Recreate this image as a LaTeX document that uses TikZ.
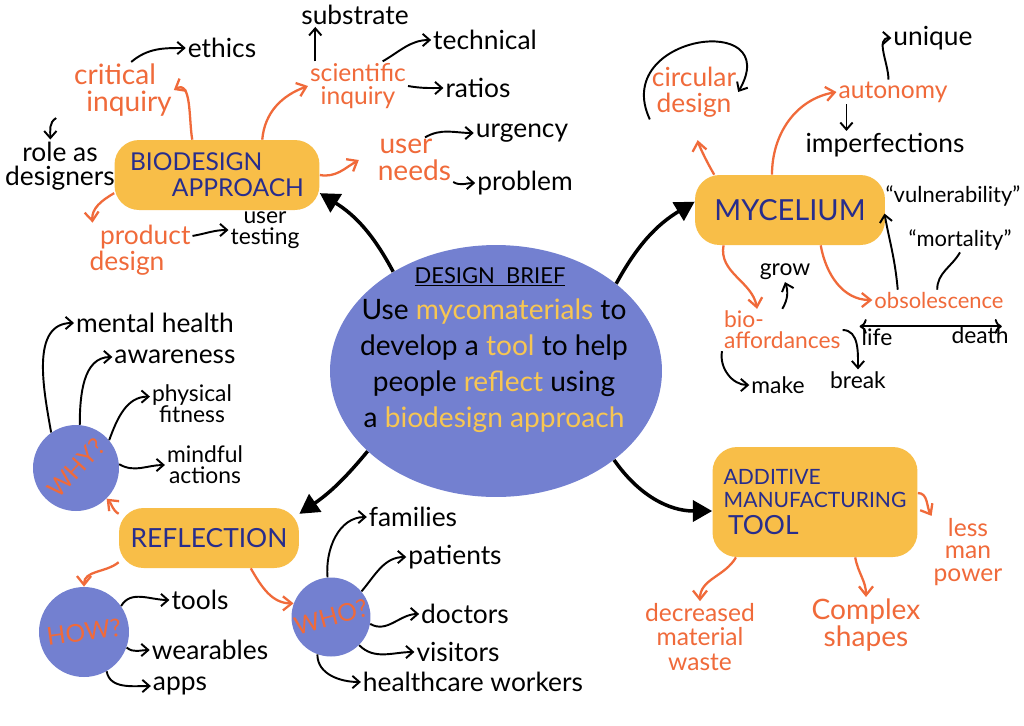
\documentclass[tikz,border=0pt]{standalone}
\usepackage{fontspec}
\setmainfont{Lato}
\usetikzlibrary{arrows.meta,shapes.geometric}

\definecolor{boxyellow}{RGB}{248,190,72}
\definecolor{blobblue}{RGB}{115,128,208}
\definecolor{orng}{RGB}{240,106,58}
\definecolor{inkblue}{RGB}{40,45,140}
\definecolor{wordyellow}{RGB}{247,198,82}

\begin{document}
\begin{tikzpicture}[x=0.02cm,y=-0.02cm,
  box/.style={fill=boxyellow, rounded corners=14pt, text=inkblue, inner sep=0pt},
  blob/.style={circle, fill=blobblue, inner sep=0pt},
  blobtext/.style={text=orng, inner sep=0pt, font=\fontsize{14}{14}\selectfont},
  sub/.style={text=orng, align=center, inner sep=1pt, font=\fontsize{15}{15}\selectfont},
  leaf/.style={text=black, align=center, inner sep=1pt, font=\fontsize{15}{14}\selectfont},
  leafs/.style={leaf, font=\fontsize{13}{12}\selectfont},
  oarr/.style={orng, line width=1.3pt, -{Straight Barb[length=5pt,width=8pt]}},
  barr/.style={black, line width=1.1pt, -{Straight Barb[length=4pt,width=7pt]}},
  bigarr/.style={black, line width=2pt, -{Triangle[length=11pt,width=12pt]}}
]
  \useasboundingbox[fill=white] (0,0) rectangle (1024,725);

  % design brief
  \node[ellipse, fill=blobblue, minimum width=6.64cm, minimum height=5.04cm] (brief) at (496,371) {};
  \node[font=\fontsize{12.5}{12}\selectfont] (title) at (490,277) {\underline{DESIGN\ \ BRIEF}};
  \node[align=center, font=\fontsize{16}{20.5}\selectfont] (brieftext) at (494,366)
    {Use \textcolor{wordyellow}{mycomaterials} to\\
     develop a \textcolor{wordyellow}{tool} to help\\
     people \textcolor{wordyellow}{reflect} using\\
     a \textcolor{wordyellow}{biodesign approach}};

  % main boxes
  \node[box, minimum width=4.1cm, minimum height=1.4cm, align=left, font=\fontsize{14}{15}\selectfont] (bio) at (217,175)
    {BIODESIGN\\\hspace*{1.7em}APPROACH};
  \node[box, minimum width=3.8cm, minimum height=1.4cm, font=\fontsize{16.5}{17}\selectfont] (myc) at (790,210) {MYCELIUM};
  \node[box, minimum width=3.6cm, minimum height=1.2cm, font=\fontsize{15}{15}\selectfont] (refl) at (209,538) {REFLECTION};
  \node[box, minimum width=4.1cm, minimum height=2.2cm, align=left, font=\fontsize{12}{13}\selectfont] (add) at (815,502)
    {ADDITIVE\\MANUFACTURING\\[2pt]{\fontsize{15}{15}\selectfont\,TOOL}};

  \node[blob, minimum size=1.72cm] (why) at (76,468) {};
  \node[blob, minimum size=1.8cm] (how) at (84,632) {};
  \node[blob, minimum size=1.58cm] (who) at (331,617) {};
  \node[blobtext, rotate=47] (whytext) at (why) {WHY?};
  \node[blobtext, rotate=8] (howtext) at (how) {HOW?};
  \node[blobtext, rotate=15] (whotext) at (who) {WHO?};

  % big arrows
  \draw[bigarr] (brief.136) to[bend right=15] (bio.-10);
  \draw[bigarr] (brief.36) to[bend left=15] (myc.175);
  \draw[bigarr] (brief.212) to[bend left=8] (refl.15);
  \draw[bigarr] (brief.-37) to[out=-55,in=180] (add.185);

  % biodesign approach
  \node[sub, font=\fontsize{16}{15}\selectfont] (crit) at (115,90) {critical\\\hspace*{1em}inquiry};
  \node[sub, font=\fontsize{14}{13}\selectfont] (sci) at (358,86) {scientific\\inquiry};
  \node[sub, font=\fontsize{16}{15}\selectfont] (need) at (406,160) {user\\\hspace*{0.6em}needs};
  \node[sub, align=left] (prod) at (140,250) {\hspace*{0.4em}product\\design};
  \node[leaf] (ethics) at (222,48) {ethics};
  \node[leaf] (role) at (60,166) {role as\\designers};
  \node[leaf] (subs) at (355,15) {substrate};
  \node[leaf] (tech) at (485,40) {technical};
  \node[leaf] (ratios) at (478,88) {ratios};
  \node[leaf] (urg) at (522,133) {urgency};
  \node[leaf] (prob) at (525,183) {problem};
  \node[leafs] (test) at (265,230) {user\\testing};

  \draw[oarr] (bio.125) to[out=100,in=30] (crit.east);
  \draw[oarr] (bio.38) to[out=85,in=200] (sci.west);
  \draw[oarr] (bio.east) to[out=-10,in=210] (need.west);
  \draw[oarr] (bio.190) to[out=210,in=95] (prod.150);
  \draw[barr] (crit.60) to[out=40,in=180] (ethics.west);
  \draw[barr] (crit.south west) to[out=210,in=90] (role.110);
  \draw[barr] (sci.150) -- (sci.150 |- subs.south);
  \draw[barr] (sci.45) to[out=30,in=180] (tech.west);
  \draw[barr] (sci.east) to[out=-10,in=180] (ratios.west);
  \draw[barr] (need.50) to[out=30,in=180] (urg.west);
  \draw[barr] (need.-25) to[out=-30,in=180] (prob.west);
  \draw[barr] (prod.15) to[out=10,in=180] (test.west);

  % mycelium
  \node[sub] (circ) at (694,92) {circular\\design};
  \node[sub, font=\fontsize{14}{14}\selectfont] (aut) at (893,92) {autonomy};
  \node[sub, font=\fontsize{12.5}{12}\selectfont] (obs) at (939,300) {obsolescence};
  \node[sub, anchor=west, align=left, font=\fontsize{13}{12}\selectfont] (bioaff) at (722,330) {bio-\\affordances};
  \node[leaf] (uniq) at (933,38) {unique};
  \node[leaf] (imp) at (885,145) {imperfections};
  \node[leaf, font=\fontsize{12.5}{12}\selectfont] (vul) at (953,196) {``vulnerability''};
  \node[leaf, font=\fontsize{12.5}{12}\selectfont] (mort) at (960,240) {``mortality''};
  \node[leaf, font=\fontsize{13}{12}\selectfont] (life) at (877,337) {life};
  \node[leaf, font=\fontsize{13}{12}\selectfont] (death) at (980,335) {death};
  \node[leaf, font=\fontsize{13}{12}\selectfont] (grow) at (785,272) {grow};
  \node[leaf, font=\fontsize{13}{12}\selectfont] (make) at (778,385) {make};
  \node[leaf, font=\fontsize{13}{12}\selectfont] (brk) at (858,380) {break};

  \draw[oarr, shorten >=12pt] (myc.155) to[out=120,in=-80] (circ.south);
  \draw[barr] (circ.south west) to[out=115,in=60,looseness=2.6] (circ.east);
  \draw[oarr] (myc.117) to[out=90,in=190] (aut.west);
  \draw[barr] (aut.110) to[out=90,in=180] (uniq.west);
  \draw[barr] (aut.195) -- (aut.195 |- imp.north);
  \draw[oarr] (myc.208) to[out=-100,in=100] (bioaff.140);
  \draw[barr] (bioaff.north) to[bend right=25] (grow.south);
  \draw[barr] (bioaff.south west) to[out=-100,in=180] (make.west);
  \draw[barr] (bioaff.east) to[out=0,in=90] (brk.north);
  \draw[oarr] (myc.-49) to[out=-80,in=180] (obs.west);
  \draw[barr, shorten >=3pt] (obs.166) to[out=95,in=-80] (vul.south west);
  \draw[black, line width=1.1pt] (obs.100) to[out=90,in=-120] (mort.south);
  \draw[barr, <->, shorten >=5pt] (life.north west) -- (life.north west -| death.north east);

  % additive manufacturing tool
  \node[sub, font=\fontsize{14}{13}\selectfont] (less) at (968,552) {less\\man\\power};
  \node[sub, font=\fontsize{14}{14}\selectfont] (waste) at (700,637) {decreased\\material\\waste};
  \node[sub, font=\fontsize{16}{15}\selectfont] (cmplx) at (866,625) {Complex\\shapes};

  \draw[oarr] (add.215) to[out=-120,in=90] (waste.north);
  \draw[oarr] (add.-54) to[out=-80,in=90] (cmplx.north);
  \draw[oarr] (add.5) to[out=0,in=120] (less.north west);

  % reflection
  \node[leaf] (mental) at (155,323) {mental health};
  \node[leaf] (aware) at (175,357) {awareness};
  \node[leafs] (phys) at (192,404) {physical\\fitness};
  \node[leafs] (mind) at (205,465) {mindful\\actions};
  \node[leaf] (tools) at (200,600) {tools};
  \node[leaf] (wear) at (210,650) {wearables};
  \node[leaf] (apps) at (180,686) {apps};
  \node[leaf] (fam) at (413,517) {families};
  \node[leaf] (pat) at (455,557) {patients};
  \node[leaf] (doc) at (465,614) {doctors};
  \node[leaf] (vis) at (458,652) {visitors};
  \node[leaf] (hc) at (473,682) {healthcare workers};

  \draw[oarr] (refl.165) to[out=150,in=-45] (why.-45);
  \draw[oarr] (refl.195) to[out=220,in=90] (how.north);
  \draw[oarr] (refl.-36) to[out=-60,in=180] (who.160);
  \draw[barr] (why.125) to[out=100,in=180] (mental.west);
  \draw[barr] (why.85) to[out=90,in=180] (aware.west);
  \draw[barr] (why.40) to[out=70,in=180] (phys.170);
  \draw[barr] (why.5) to[out=-30,in=180] (mind.west);
  \draw[barr] (how.35) to[out=60,in=180] (tools.west);
  \draw[barr] (how.-20) to[out=-40,in=180] (wear.west);
  \draw[barr] (how.-60) to[out=-80,in=180] (apps.west);
  \draw[barr] (who.95) to[out=95,in=180] (fam.west);
  \draw[barr] (who.40) to[out=50,in=180] (pat.west);
  \draw[barr] (who.-10) to[out=-30,in=180] (doc.west);
  \draw[barr] (who.-45) to[out=-45,in=180] (vis.west);
  \draw[barr] (who.-110) to[out=-90,in=180] (hc.west);
\end{tikzpicture}
\end{document}
